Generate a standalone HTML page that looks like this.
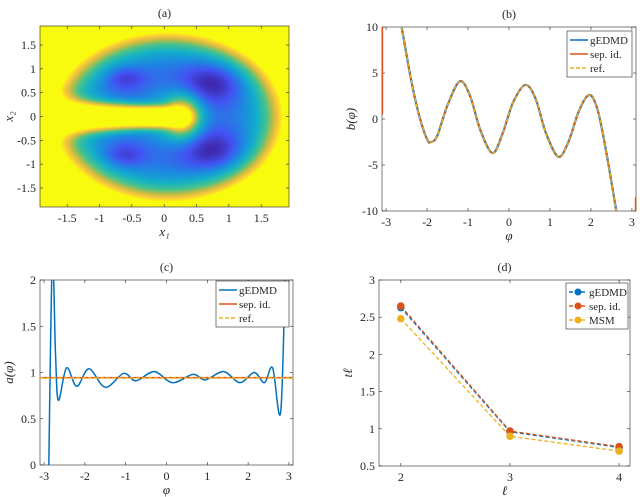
<!DOCTYPE html>
<html><head><meta charset="utf-8"><style>
body{margin:0;background:#fff;width:640px;height:497px;overflow:hidden;font-family:"Liberation Serif",serif;}
svg{position:absolute;left:0;top:0}
canvas{position:absolute}
</style></head><body>
<canvas id="heat" width="249" height="181" style="left:40px;top:26px;width:249px;height:181px"></canvas>
<svg id="s" width="640" height="497" font-family="Liberation Serif, serif" font-size="12"></svg>
<script>
// ---------- data ----------
const bPhi=[-2.62,-2.4,-2.2,-2.0,-1.9,-1.75,-1.5,-1.2,-0.95,-0.7,-0.4,-0.15,0.1,0.4,0.65,0.9,1.2,1.45,1.7,1.95,2.15,2.35,2.62];
const bVal=[10,4.5,0.5,-2.2,-2.5,-1.8,1.5,4.1,2.5,-1.2,-3.7,-1.5,1.8,3.7,2.2,-1.5,-4.1,-2.5,0.8,2.6,1.2,-3,-10];
const aPhi=[-2.9,-2.8,-2.72,-2.65,-2.45,-2.2,-1.9,-1.5,-1.05,-0.75,-0.3,0.15,0.65,0.95,1.4,1.8,2.15,2.4,2.6,2.8,2.92];
const aVal=[-0.5,2.2,1.2,0.7,1.05,0.85,1.04,0.84,0.99,0.91,1.01,0.89,0.98,0.92,1.01,0.89,1.0,0.89,1.05,0.58,2.3];
const aConst=[0.94,0.945];
const ells=[2,3,4];
const tG=[2.63,0.96,0.75];
const tS=[2.65,0.97,0.76];
const tM=[2.48,0.9,0.7];
const xTicksA=[-1.5,-1,-0.5,0,0.5,1,1.5], yTicksA=[-1.5,-1,-0.5,0,0.5,1,1.5];
const xTicksB=[-3,-2,-1,0,1,2,3], yTicksB=[-10,-5,0,5,10];
const yTicksC=[0,0.5,1,1.5,2];
const yTicksD=[0.5,1,1.5,2,2.5,3];
const BLUE='#0072bd',RED='#d95319',YEL='#edb120';
// ---------- heatmap ----------
(function(){
 const c=document.getElementById('heat'),g=c.getContext('2d'),W=249,H=181,img=g.createImageData(W,H);
 const cm=[[0,[62,38,168]],[0.14,[67,82,243]],[0.28,[28,138,225]],[0.42,[19,177,199]],[0.57,[71,195,140]],[0.71,[194,188,67]],[0.85,[252,199,59]],[1,[249,251,14]]];
 function col(t){t=Math.max(0,Math.min(1,t));for(let i=1;i<cm.length;i++){if(t<=cm[i][0]){const a=cm[i-1],b=cm[i],f=(t-a[0])/(b[0]-a[0]);return a[1].map((v,k)=>v+(b[1][k]-v)*f);}}return cm[cm.length-1][1];}
 for(let j=0;j<H;j++)for(let i=0;i<W;i++){
  const x=-1.92+3.85*i/W,y=1.9-3.8*j/H;
  const r=Math.pow(((x-0.05)/1.8)**2+(y/1.8)**2,2.5);
  let v=0.2+0.85*r;
  v-=0.24*Math.exp(-(((x-0.75)**2)/0.25+((Math.abs(y)-0.72)**2)/0.18));
  v-=0.17*Math.exp(-(((x+0.62)**2)/0.1+((Math.abs(y)-0.82)**2)/0.06));
  const s=1/(1+Math.exp(-(0.3-x)/0.06));
  v+=1.4*Math.exp(-(y*y)/(0.03+0.04*Math.max(0,-x)))*s;
  v+=0.5*Math.exp(-(y*y)/0.2)*Math.exp(-((x-0.3)**2)/0.07);
  v+=0.3*Math.exp(-(y*y)/0.25)*Math.exp(-((x-0.1)**2)/0.2);
  const cc=col(v),p=(j*W+i)*4;img.data[p]=cc[0];img.data[p+1]=cc[1];img.data[p+2]=cc[2];img.data[p+3]=255;}
 g.putImageData(img,0,0);
})();
// ---------- svg ----------
const S=document.getElementById('s'),NS='http://www.w3.org/2000/svg';
function el(t,a,p){const e=document.createElementNS(NS,t);for(const k in a)e.setAttribute(k,a[k]);(p||S).appendChild(e);return e;}
function txt(x,y,s,anchor,name,extra){const e=el('text',Object.assign({x:x,y:y,'text-anchor':anchor||'middle',fill:'#262626'},extra||{}));e.textContent=s;return e;}
function axes(id,L,T,R,B,x0,x1,y0,y1,xt,yt,xlab,ylab,title){
 const sx=v=>L+(v-x0)/(x1-x0)*(R-L), sy=v=>B-(v-y0)/(y1-y0)*(B-T);
 const g=el('g',{});
 xt.forEach(v=>{el('line',{x1:sx(v),x2:sx(v),y1:B,y2:B-3,stroke:'#262626','stroke-width':0.6},g);el('line',{x1:sx(v),x2:sx(v),y1:T,y2:T+3,stroke:'#262626','stroke-width':0.6},g);txt(sx(v),B+15,String(v),'middle','x-tick-label-'+id);});
 yt.forEach(v=>{el('line',{x1:L,x2:L+3,y1:sy(v),y2:sy(v),stroke:'#262626','stroke-width':0.6},g);el('line',{x1:R,x2:R-3,y1:sy(v),y2:sy(v),stroke:'#262626','stroke-width':0.6},g);txt(L-4,sy(v)+4,String(v),'end','y-tick-label-'+id);});
 el('rect',{x:L,y:T,width:R-L,height:B-T,fill:'none',stroke:'#262626','stroke-width':0.6},g);
 txt((L+R)/2,B+29,xlab,'middle','x-axis-title-'+id,{'font-style':'italic','font-size':13});
 txt(L-27,(T+B)/2,ylab,'middle','y-axis-title-'+id,{'font-style':'italic','font-size':13,transform:'rotate(-90 '+(L-27)+' '+((T+B)/2)+')'});
 txt((L+R)/2,T-9,title,'middle','panel-title-'+id);
 const cp=el('clipPath',{id:'cp'+id});el('rect',{x:L,y:T,width:R-L,height:B-T},cp);
 return {sx,sy};
}
function smooth(xs,ys,sx,sy){const P=xs.map((x,i)=>[sx(x),sy(ys[i])]);let d='M'+P[0][0]+','+P[0][1];
 for(let i=0;i<P.length-1;i++){const p0=P[Math.max(0,i-1)],p1=P[i],p2=P[i+1],p3=P[Math.min(P.length-1,i+2)];
 d+=' C'+(p1[0]+(p2[0]-p0[0])/6)+','+(p1[1]+(p2[1]-p0[1])/6)+' '+(p2[0]-(p3[0]-p1[0])/6)+','+(p2[1]-(p3[1]-p1[1])/6)+' '+p2[0]+','+p2[1];}return d;}
// (a)
axes('a',40,26,289,207,-1.92,1.93,-1.9,1.9,xTicksA,yTicksA,'x₁','x₂','(a)');
// (b)
let A=axes('b',382,27,636,211,-3.1,3.1,-10,10,xTicksB,yTicksB,'φ','b(φ)','(b)');
let p=el('path',{d:smooth(bPhi,bVal,A.sx,A.sy),fill:'none',stroke:BLUE,'stroke-width':2.2,'clip-path':'url(#cpb)'});
p=el('path',{d:smooth(bPhi,bVal,A.sx,A.sy),fill:'none',stroke:RED,'stroke-width':1.4,'clip-path':'url(#cpb)'});
p=el('path',{d:smooth(bPhi,bVal,A.sx,A.sy),fill:'none',stroke:YEL,'stroke-width':1.4,'stroke-dasharray':'4 2','clip-path':'url(#cpb)'});
el('line',{x1:A.sx(-3.09),x2:A.sx(-3.09),y1:A.sy(10),y2:A.sy(0.5),stroke:RED,'stroke-width':1.5});
el('line',{x1:A.sx(3.09),x2:A.sx(3.09),y1:A.sy(-10),y2:A.sy(-8.5),stroke:RED,'stroke-width':1.5});
// (c)
A=axes('c',40,280,293,465,-3.1,3.1,0,2,xTicksB,yTicksC,'φ','a(φ)','(c)');
p=el('path',{d:smooth(aPhi,aVal,A.sx,A.sy),fill:'none',stroke:BLUE,'stroke-width':1.5,'clip-path':'url(#cpc)'});
p=el('line',{x1:A.sx(-3.1),x2:A.sx(3.1),y1:A.sy(aConst[1]),y2:A.sy(aConst[1]),stroke:RED,'stroke-width':1.5});
p=el('line',{x1:A.sx(-3.1),x2:A.sx(3.1),y1:A.sy(aConst[0]),y2:A.sy(aConst[0]),stroke:YEL,'stroke-width':1.5,'stroke-dasharray':'4 2'});
// (d)
A=axes('d',379,280,630,466,1.8,4.1,0.5,3,ells,yTicksD,'ℓ','tℓ','(d)');
[[tG,BLUE,'gedmd'],[tS,RED,'sepid'],[tM,YEL,'msm']].forEach(([arr,c,n])=>{
 p=el('polyline',{points:ells.map((e,i)=>A.sx(e)+','+A.sy(arr[i])).join(' '),fill:'none',stroke:c,'stroke-width':1.3,'stroke-dasharray':'4 2.5'});
 ells.forEach((e,i)=>{const m=el('circle',{cx:A.sx(e),cy:A.sy(arr[i]),r:3.8,fill:c});});
});
// legends
function legend(id,x,y,w,items){const g=el('g',{});
 el('rect',{x:x,y:y,width:w,height:46,fill:'#fff',stroke:'#262626','stroke-width':0.6},g);
 items.forEach((it,i)=>{const yy=y+9+i*14;const e=el('g',{},g);
  el('line',{x1:x+3,x2:x+21,y1:yy,y2:yy,stroke:it[1],'stroke-width':1.6,'stroke-dasharray':it[2]?'4 2':'none'},e);
  if(it[3])el('circle',{cx:x+12,cy:yy,r:3.5,fill:it[1]},e);
  const t=el('text',{x:x+23,y:yy+4,'font-size':11,fill:'#262626'},e);t.textContent=it[0];});}
legend('b',567,31,65,[['gEDMD',BLUE,0],['sep. id.',RED,0],['ref.',YEL,1]]);
legend('c',216,281,73,[['gEDMD',BLUE,0],['sep. id.',RED,0],['ref.',YEL,1]]);
legend('d',566,283,62,[['gEDMD',BLUE,1,1],['sep. id.',RED,1,1],['MSM',YEL,1,1]]);
</script>
</body></html>
